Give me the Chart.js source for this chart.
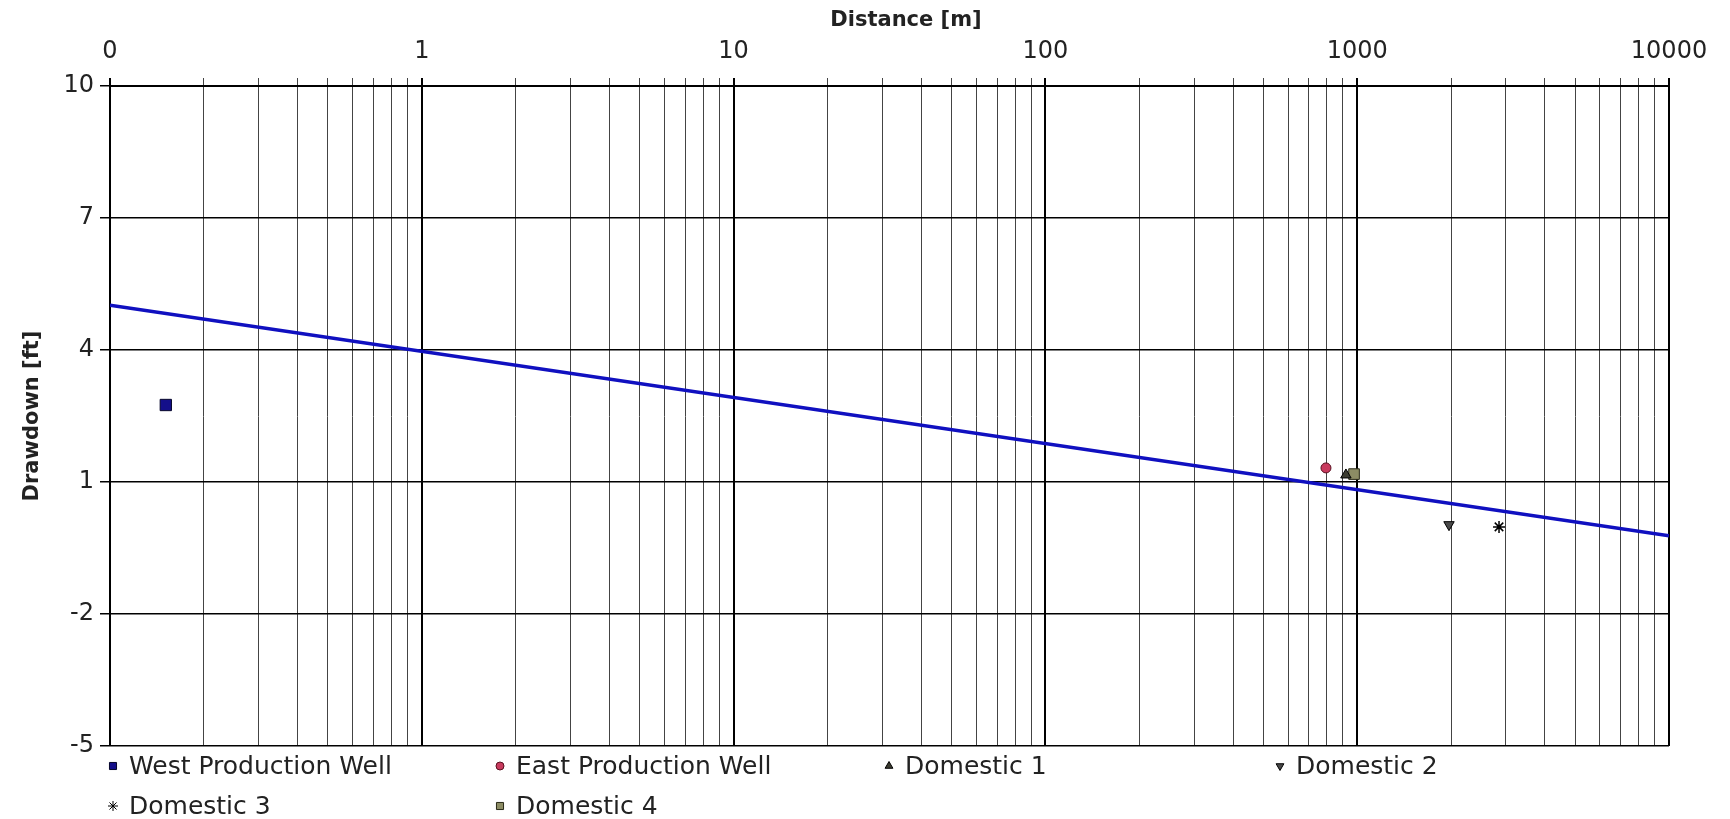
<!DOCTYPE html>
<html>
<head>
<meta charset="utf-8">
<script src="https://cdn.jsdelivr.net/npm/chart.js@4"></script>
<style>
  html, body { margin: 0; padding: 0; background: #fff; }
  #wrap { position: relative; width: 1730px; height: 819px; }
</style>
</head>
<body>
<div id="wrap"><canvas id="c" width="1730" height="819"></canvas></div>
<script>
// ---- data ----
const xTitle = 'Distance [m]';
const yTitle = 'Drawdown [ft]';
const xDecades = [0.1, 1, 10, 100, 1000, 10000];
const xTickLabels = ['0', '1', '10', '100', '1000', '10000'];
const yTicks = [-5, -2, 1, 4, 7, 10];

const fitX = [0.1, 10000];
const fitY = [5.02, -0.22];

const wellNames = ['West Production Well', 'East Production Well', 'Domestic 1', 'Domestic 2', 'Domestic 3', 'Domestic 4'];
const wellX = [0.151, 794, 920, 1970, 2850, 977];
const wellY = [2.75, 1.32, 1.16, 0.03, -0.02, 1.18];

// ---- styles ----
const wellStyles = [
  { pointStyle: 'rect', bg: '#140f8a', border: '#05052a', radius: 8, rotation: 0, lr: 5 },
  { pointStyle: 'circle', bg: '#c83a5e', border: '#5a1020', radius: 5, rotation: 0, lr: 4 },
  { pointStyle: 'triangle', bg: '#3c3c30', border: '#000000', radius: 6, rotation: 0, lr: 4.5 },
  { pointStyle: 'triangle', bg: '#4a4a4a', border: '#000000', radius: 6, rotation: 180, lr: 4.5 },
  { pointStyle: 'star', bg: '#000000', border: '#000000', radius: 6, rotation: 0, lr: 5 },
  { pointStyle: 'rect', bg: '#8c8c64', border: '#2a2a18', radius: 7.5, rotation: 0, lr: 5 }
];

const datasets = [{
  label: 'fit',
  type: 'line',
  data: fitX.map((x, i) => ({ x: x, y: fitY[i] })),
  borderColor: '#1010c0',
  borderWidth: 3.5,
  pointRadius: 0,
  fill: false,
  order: 1
}];
wellNames.forEach((n, i) => {
  const s = wellStyles[i];
  datasets.push({
    label: n,
    type: 'scatter',
    data: [{ x: wellX[i], y: wellY[i] }],
    pointStyle: s.pointStyle,
    rotation: s.rotation,
    backgroundColor: s.bg,
    borderColor: s.border,
    borderWidth: s.pointStyle === 'star' ? 1.5 : 1,
    pointRadius: s.radius,
    order: 0
  });
});

function isDecade(v) {
  const l = Math.log10(v);
  return Math.abs(l - Math.round(l)) < 1e-6;
}

const legendPlugin = {
  id: 'gridLegend',
  afterDraw(chart) {
    const ctx = chart.ctx;
    const colX = [113, 500, 889, 1280];
    const rowY = [766, 806];
    ctx.save();
    ctx.font = '25px "DejaVu Sans"';
    ctx.textBaseline = 'middle';
    ctx.textAlign = 'left';
    chart.data.datasets.slice(1).forEach((ds, i) => {
      const cx = colX[i % 4];
      const cy = rowY[Math.floor(i / 4)];
      const s = wellStyles[i];
      ctx.fillStyle = s.bg;
      ctx.strokeStyle = s.border;
      ctx.lineWidth = 1;
      if (Chart.helpers && Chart.helpers.drawPoint) {
        Chart.helpers.drawPoint(ctx, { pointStyle: s.pointStyle, radius: s.lr, rotation: s.rotation, borderWidth: 1 }, cx, cy);
      } else {
        ctx.fillRect(cx - 4, cy - 4, 8, 8);
      }
      ctx.fillStyle = '#222';
      ctx.fillText(ds.label, cx + 16, cy + 1);
    });
    // top axis title
    ctx.font = 'bold 21px "DejaVu Sans"';
    ctx.textAlign = 'center';
    ctx.fillStyle = '#222';
    ctx.fillText(xTitle, 906, 21);
    ctx.restore();
  }
};

new Chart(document.getElementById('c'), {
  data: { datasets: datasets },
  options: {
    responsive: false,
    animation: false,
    layout: { padding: { left: 20, top: 0, right: 61, bottom: 73 } },
    plugins: { legend: { display: false }, tooltip: { enabled: false } },
    scales: {
      x: {
        type: 'logarithmic',
        position: 'top',
        min: 0.1,
        max: 10000,
        afterBuildTicks(scale) {
          const t = [];
          xDecades.forEach((d, k) => {
            if (k === xDecades.length - 1) { t.push({ value: d }); return; }
            for (let m = 1; m <= 9; m++) t.push({ value: d * m });
          });
          scale.ticks = t;
        },
        afterFit(scale) { scale.height = 86; },
        title: { display: false },
        ticks: {
          autoSkip: false,
          maxRotation: 0,
          minRotation: 0,
          padding: 12,
          font: { family: '"DejaVu Sans"', size: 24 },
          color: '#222',
          callback(v) {
            if (!isDecade(v)) return '';
            const idx = xDecades.findIndex(d => Math.abs(d - v) / d < 1e-6);
            return idx >= 0 ? xTickLabels[idx] : '';
          }
        },
        grid: {
          color(ctx) { return ctx.tick && isDecade(ctx.tick.value) ? '#000' : '#444'; },
          lineWidth(ctx) { return ctx.tick && isDecade(ctx.tick.value) ? 2 : 1; },
          tickLength: 8
        },
        border: { color: '#000', width: 2 }
      },
      y: {
        type: 'linear',
        min: -5,
        max: 10,
        afterBuildTicks(scale) { scale.ticks = yTicks.map(v => ({ value: v })); },
        afterFit(scale) { scale.width = 90; },
        title: {
          display: true,
          text: yTitle,
          font: { family: '"DejaVu Sans"', size: 21, weight: 'bold' },
          color: '#222',
          padding: { top: 0, bottom: 8 }
        },
        ticks: {
          padding: 6,
          font: { family: '"DejaVu Sans"', size: 24 },
          color: '#222'
        },
        grid: { color: '#000', lineWidth: 1.5, tickLength: 10 },
        border: { color: '#000', width: 2 }
      }
    }
  },
  plugins: [legendPlugin]
});
</script>
</body>
</html>
